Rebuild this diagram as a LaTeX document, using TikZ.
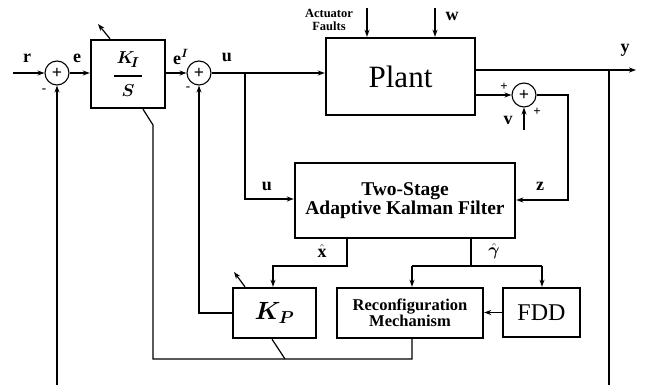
\documentclass[tikz,border=0pt]{standalone}
\usepackage{amsmath,bm}
\usepackage{fontspec}
\setmainfont{Liberation Serif}
\usetikzlibrary{arrows.meta,calc}
\begin{document}
\begin{tikzpicture}[x=1pt,y=-1pt,
  blk/.style={draw, line width=2.4pt, inner sep=0pt},
  sumc/.style={circle, draw, line width=1.1pt, minimum size=24pt, inner sep=0pt, font=\bfseries\fontsize{18}{18}\selectfont},
  ln/.style={line width=1.2pt},
  sig/.style={line width=1.2pt, -{Stealth[length=7pt,width=5pt]}},
  lbl/.style={font=\bfseries\fontsize{18}{20}\selectfont, inner sep=0pt},
  sgn/.style={font=\bfseries\fontsize{13}{13}\selectfont, inner sep=0pt}
]
\useasboundingbox (0,0) rectangle (648,385);

% blocks
\node[blk, minimum width=74pt, minimum height=68pt] (ki) at (128,74)
  {\fontsize{19}{24}\selectfont$\genfrac{}{}{2.4pt}{0}{\,\boldsymbol{K_{\!I}}\,}{\boldsymbol{S}}$};
\node[blk, minimum width=149pt, minimum height=77pt] (plant) at (400.5,76.5)
  {\fontsize{31}{33}\selectfont Plant};
\node[blk, minimum width=220pt, minimum height=75pt, align=center] (kf) at (405,200.5)
  {\bfseries\fontsize{19.5}{28}\selectfont Two-Stage\\ \bfseries\fontsize{19.5}{28}\selectfont Adaptive Kalman Filter};
\node[blk, minimum width=83pt, minimum height=50pt] (kp) at (274.5,313)
  {\fontsize{23}{24}\selectfont$\boldsymbol{K_P}$};
\node[blk, minimum width=146pt, minimum height=50pt, align=center] (rc) at (410,313)
  {\bfseries\fontsize{16.5}{20}\selectfont Reconfiguration\\ \bfseries\fontsize{16.5}{20}\selectfont Mechanism};
\node[blk, minimum width=77pt, minimum height=49pt] (fdd) at (541.5,312.5)
  {\fontsize{24}{26}\selectfont FDD};

% summing junctions
\node[sumc] (s1) at (57,73) {+};
\node[sumc] (s2) at (199,73) {+};
\node[sumc] (s3) at (524,95) {+};

% coordinates
\coordinate (rin) at (13,73);
\coordinate (s1b) at (57,385);
\coordinate (ybr) at (609,70);
\coordinate (ybot) at (609,385);
\coordinate (yout) at (636,70);
\coordinate (ubr) at (245,73);
\coordinate (uc) at (245,199);
\coordinate (zc1) at (568,95);
\coordinate (zc2) at (568,200);
\coordinate (xh1) at (347,266);
\coordinate (xh2) at (273,266);
\coordinate (gh1) at (471,266);
\coordinate (gl) at (412,266);
\coordinate (gr) at (542,266);
\coordinate (kpc) at (199,313);
\coordinate (rb) at (412,359);
\coordinate (lb) at (153,359);
\coordinate (lu) at (153,125);
\coordinate (kpd) at (285,359);
\coordinate (faf) at (367,8);
\coordinate (wf) at (435,8);
\coordinate (vin) at (524,130);

% main path
\draw[sig] (rin) -- (s1.west);
\draw[sig] (s1.east) -- (ki.west |- s1);
\draw[sig] (ki.east |- s2) -- (s2.west);
\draw[sig] (s2.east) -- (plant.west |- s2);
\draw[sig] (plant.east |- ybr) -- (yout);
\draw[ln] (ybr) -- (ybot);
\draw[sig] (s1b) -- (s1.south);

% disturbances
\draw[sig] (faf) -- (plant.north -| faf);
\draw[sig] (wf) -- (plant.north -| wf);
\draw[sig] (plant.east |- s3) -- (s3.west);
\draw[sig] (vin) -- (s3.south);

% filter connections
\draw[sig] (ubr) -- (uc) -- (kf.west |- uc);
\draw[sig] (s3.east) -- (zc1) -- (zc2) -- (kf.east |- zc2);
\draw[sig] (kf.south -| xh1) -- (xh1) -- (xh2) -- (kp.north -| xh2);
\draw[ln] (kf.south -| gh1) -- (gh1);
\draw[ln] (gl) -- (gr);
\draw[sig] (gl) -- (rc.north -| gl);
\draw[sig] (gr) -- (fdd.north -| gr);
\draw[sig] (fdd.west) -- (rc.east |- fdd.west);

% K_P feedback
\draw[sig] (kp.west) -- (kpc) -- (s2.south);

% reconfiguration lines
\draw[ln] (rc.south -| rb) -- (rb) -- (lb) -- (lu) -- (ki.south -| 143,0);
\draw[ln] (kp.south -| 272,0) -- (kpd);

% adaptation arrows
\draw[sig] (ki.north -| 110,0) -- (98,24);
\draw[sig] (kp.north -| 245,0) -- (234,272);

% labels
\node[lbl] (lr) at (27,58) {r};
\node[lbl] (le) at (77,58) {e};
\node[lbl] (leI) at (181,57) {e$^{\boldsymbol{I}}$};
\node[lbl] (lu1) at (227,57) {u};
\node[lbl] (lu2) at (267,186) {u};
\node[lbl] (lz) at (540,186) {z};
\node[lbl] (ly) at (625,50) {y};
\node[lbl] (lw) at (452,16) {w};
\node[lbl] (lv) at (508,120) {v};
\node[font=\bfseries\fontsize{12.5}{13}\selectfont, align=center, inner sep=0pt] (laf) at (329,20) {Actuator\\Faults};
\node[lbl] (lxh) at (322,251) {$\hat{\mathbf{x}}$};
\node[lbl] (lgh) at (494,251) {$\hat{\boldsymbol{\gamma}}$};
\node[sgn] (m1) at (44,91) {-};
\node[sgn] (m2) at (188,89) {-};
\node[sgn] (p1) at (504,87) {+};
\node[sgn] (p2) at (537,112) {+};
\end{tikzpicture}
\end{document}
